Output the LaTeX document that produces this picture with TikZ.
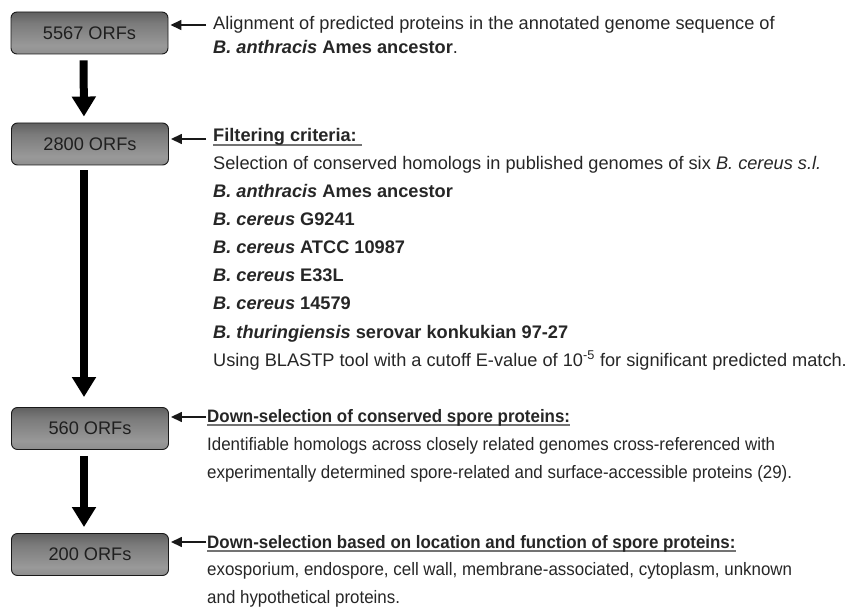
\documentclass[tikz,border=0pt]{standalone}
\usepackage{fontspec}
\setmainfont{Liberation Sans}
\newfontfamily\condfont[FakeStretch=0.94]{Liberation Sans}
\usetikzlibrary{arrows.meta}
\pgfdeclareverticalshading{orfshade}{100bp}{color(0bp)=(black!88); color(12bp)=(black!50); color(35bp)=(black!40); color(62bp)=(black!52); color(85bp)=(black!70); color(100bp)=(black!92)}
\newcommand\myul[1]{\setbox0=\hbox{#1}\rlap{\textcolor{black!55}{\rule[-4pt]{\wd0}{1.8pt}}}\box0}
\tikzset{
  orfbox/.style={draw=black!90, line width=0.9pt, rounded corners=6pt, shading=orfshade,
    minimum width=157pt, minimum height=42pt, inner sep=0pt, text=black!88,
    font=\fontsize{18.2}{22}\selectfont},
  txt/.style={anchor=base west, inner sep=0pt, text=black!85, font=\fontsize{18.2}{22}\selectfont},
  ctxt/.style={anchor=base west, inner sep=0pt, text=black!85, font=\condfont\fontsize{18}{22}\selectfont},
  harrow/.style={line width=1.5pt, black!90, -{Triangle[length=11pt,width=10pt]}, shorten >=2pt},
  varrow/.style={line width=8pt, black, -{Triangle[length=20pt,width=23pt]}}
}
\begin{document}
\begin{tikzpicture}[x=1pt,y=-1pt]
\useasboundingbox (0,0) rectangle (856,609);
% boxes
\node[orfbox] (b1) at (89.5,33) {5567 ORFs};
\node[orfbox] (b2) at (90,144) {2800 ORFs};
\node[orfbox] (b3) at (90,428.5) {560 ORFs};
\node[orfbox] (b4) at (90,554.5) {200 ORFs};
% vertical arrows
\draw[varrow, shorten <=6pt, shorten >=6pt] ([xshift=-6pt]b1.south) -- ([xshift=-6pt]b2.north);
\draw[varrow, shorten <=5pt, shorten >=10pt] ([xshift=-6pt]b2.south) -- ([xshift=-6pt]b3.north);
\draw[varrow, shorten <=6pt, shorten >=6pt] ([xshift=-6pt]b3.south) -- ([xshift=-6pt]b4.north);
% side arrows
\coordinate (t1) at (206,25);
\coordinate (t2) at (206,139);
\coordinate (t3) at (206,417);
\coordinate (t4) at (206,542);
\draw[harrow] (t1) -- (t1 -| b1.east);
\draw[harrow] (t2) -- (t2 -| b2.east);
\draw[harrow] (t3) -- (t3 -| b3.east);
\draw[harrow] (t4) -- (t4 -| b4.east);
% section 1
\node[txt] (s1a) at (213,30) {Alignment of predicted proteins in the annotated genome sequence of};
\node[txt] (s1b) at (213,54) {\textbf{\textit{B. anthracis} Ames ancestor}.};
% section 2
\node[txt] (s2a) at (213,142) {\textbf{\myul{Filtering criteria:\ }}};
\node[txt] (s2b) at (213,170) {Selection of conserved homologs in published genomes of six \textit{B. cereus s.l.}};
\node[txt] (s2c) at (213,198) {\textbf{\textit{B. anthracis} Ames ancestor}};
\node[txt] (s2d) at (213,226) {\textbf{\textit{B. cereus} G9241}};
\node[txt] (s2e) at (213,254) {\textbf{\textit{B. cereus} ATCC 10987}};
\node[txt] (s2f) at (213,282) {\textbf{\textit{B. cereus} E33L}};
\node[txt] (s2g) at (213,310) {\textbf{\textit{B. cereus} 14579}};
\node[txt] (s2h) at (213,338) {\textbf{\textit{B. thuringiensis} serovar konkukian 97-27}};
\node[txt] (s2i) at (213,366) {Using BLASTP tool with a cutoff E-value of 10\textsuperscript{-5} for significant predicted match.};
% section 3
\node[ctxt] (s3a) at (207,422) {\textbf{\myul{Down-selection of conserved spore proteins:}}};
\node[ctxt] (s3b) at (207,450) {Identifiable homologs across closely related genomes cross-referenced with};
\node[ctxt] (s3c) at (207,478) {experimentally determined spore-related and surface-accessible proteins (29).};
% section 4
\node[ctxt] (s4a) at (207,548) {\textbf{\myul{Down-selection based on location and function of spore proteins:}}};
\node[ctxt] (s4b) at (207,575.5) {exosporium, endospore, cell wall, membrane-associated, cytoplasm, unknown};
\node[ctxt] (s4c) at (207,603) {and hypothetical proteins.};
\end{tikzpicture}
\end{document}
